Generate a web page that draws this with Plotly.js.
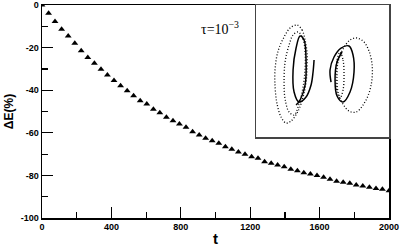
<!DOCTYPE html>
<html>
<head>
<meta charset="utf-8">
<script src="https://cdn.plot.ly/plotly-3.0.1.min.js"></script>
<style>html,body{margin:0;padding:0;background:#fff;}#chart{width:400px;height:249px;}</style>
</head>
<body>
<div id="chart"></div>
<script>
// Main series: energy loss ΔE(%) vs time t
const tValues = [0, 38, 75, 113, 151, 189, 226, 264, 302, 340, 377, 415, 453, 491, 528, 566, 604, 642, 679, 717, 755, 792, 830, 868, 906, 943, 981, 1019, 1057, 1094, 1132, 1170, 1208, 1245, 1283, 1321, 1358, 1396, 1434, 1472, 1509, 1547, 1585, 1623, 1660, 1698, 1736, 1774, 1811, 1849, 1887, 1925, 1962, 2000];
const dEValues = [0, -3.9, -7.8, -11.4, -14.6, -18.0, -21.5, -24.6, -27.4, -30.2, -32.9, -35.5, -37.9, -40.2, -42.6, -44.9, -46.5, -49.0, -50.6, -52.7, -54.3, -55.9, -57.4, -59.5, -61.0, -62.6, -63.7, -64.9, -66.5, -67.7, -69.0, -70.1, -71.2, -72.0, -73.6, -74.3, -75.1, -75.9, -77.1, -77.8, -78.7, -79.3, -80.1, -80.9, -81.8, -82.8, -83.2, -83.7, -84.5, -85.0, -85.6, -86.1, -86.5, -87.2];

const xTickVals = [0, 400, 800, 1200, 1600, 2000];
const xTickText = ["0", "400", "800", "1200", "1600", "2000"];
const yTickVals = [0, -20, -40, -60, -80, -100];
const yTickText = ["0", "-20", "-40", "-60", "-80", "-100"];

// Inset: trajectory sketch (arbitrary inset units)
const leftOuterX = [41, 46, 49, 51, 51, 50, 47, 42, 35, 30, 25, 21, 19, 19, 22, 28, 34, 41];
const leftOuterY = [112, 107, 97, 84, 70, 55, 40, 26, 16, 14, 20, 33, 50, 68, 86, 100, 109, 112];
const leftInnerX = [42, 47, 49, 49, 47, 43, 38, 33, 29, 28, 29, 33, 37, 42];
const leftInnerY = [105, 98, 85, 68, 50, 33, 22, 25, 38, 55, 75, 92, 102, 105];
const leftSolidX = [58, 57, 55, 50, 43, 38, 37, 40, 44, 48, 50, 49, 44, 40];
const leftSolidY = [77, 65, 52, 40, 35, 45, 67, 89, 101, 97, 77, 52, 37, 32];
const rightOuterX = [101, 108, 113, 116, 116, 113, 107, 100, 93, 87, 82, 81, 82, 87, 94, 101];
const rightOuterY = [99, 95, 86, 73, 58, 44, 32, 25, 26, 33, 45, 60, 75, 88, 97, 99];
const rightInnerX = [84, 87, 88, 87, 84, 81, 80, 81, 84];
const rightInnerY = [85, 77, 62, 47, 39, 45, 62, 77, 85];
const rightSolidX = [75, 74, 78, 85, 93, 97, 98, 94, 87, 81, 79, 81, 86];
const rightSolidY = [55, 67, 80, 89, 91, 82, 65, 45, 35, 41, 57, 75, 85];

const dotted = {color: '#000', width: 1.3, dash: '1px,2px', shape: 'spline'};
const solid = {color: '#000', width: 1.5, shape: 'spline'};

const traces = [
  {x: tValues, y: dEValues, type: 'scatter', mode: 'markers',
   marker: {symbol: 'triangle-up', size: 6, color: '#000'}, xaxis: 'x', yaxis: 'y', hoverinfo: 'skip'},
  {x: leftOuterX, y: leftOuterY, mode: 'lines', line: dotted, xaxis: 'x2', yaxis: 'y2'},
  {x: leftInnerX, y: leftInnerY, mode: 'lines', line: dotted, xaxis: 'x2', yaxis: 'y2'},
  {x: leftSolidX, y: leftSolidY, mode: 'lines', line: solid, xaxis: 'x2', yaxis: 'y2'},
  {x: rightOuterX, y: rightOuterY, mode: 'lines', line: dotted, xaxis: 'x2', yaxis: 'y2'},
  {x: rightInnerX, y: rightInnerY, mode: 'lines', line: dotted, xaxis: 'x2', yaxis: 'y2'},
  {x: rightSolidX, y: rightSolidY, mode: 'lines', line: solid, xaxis: 'x2', yaxis: 'y2'}
];

const tickFont = {family: 'Liberation Sans, Arial, sans-serif', size: 9, color: '#000', weight: 'bold'};

const layout = {
  width: 400, height: 249,
  margin: {l: 42, r: 11, t: 5, b: 31},
  paper_bgcolor: '#fff', plot_bgcolor: '#fff',
  showlegend: false,
  xaxis: {
    range: [0, 2000], tickvals: xTickVals, ticktext: xTickText,
    ticks: 'inside', ticklen: 11, tickwidth: 1.2, tickcolor: '#000',
    minor: {dtick: 200, tick0: 0, ticks: 'inside', ticklen: 6, tickwidth: 1.2, tickcolor: '#000', showgrid: false},
    showline: true, linecolor: '#000', linewidth: 1.5, mirror: true,
    showgrid: false, zeroline: false, tickfont: tickFont,
    title: {text: 't', font: {family: 'Liberation Sans, Arial, sans-serif', size: 15, color: '#000', weight: 'bold'}, standoff: 2}
  },
  yaxis: {
    range: [-100, 0], tickvals: yTickVals, ticktext: yTickText,
    ticks: 'inside', ticklen: 11, tickwidth: 1.2, tickcolor: '#000',
    minor: {dtick: 10, tick0: 0, ticks: 'inside', ticklen: 6, tickwidth: 1.2, tickcolor: '#000', showgrid: false},
    showline: true, linecolor: '#000', linewidth: 1.5, mirror: true,
    showgrid: false, zeroline: false, tickfont: tickFont,
    title: {text: 'ΔE(%)', font: {family: 'Liberation Sans, Arial, sans-serif', size: 12, color: '#000', weight: 'bold'}, standoff: 4}
  },
  xaxis2: {
    domain: [0.617, 1], range: [0, 133], anchor: 'y2',
    showline: true, linecolor: '#444', linewidth: 1.5, mirror: true,
    showgrid: false, zeroline: false, showticklabels: false, ticks: ''
  },
  yaxis2: {
    domain: [0.38, 1], range: [0, 132], anchor: 'x2',
    showline: true, linecolor: '#444', linewidth: 1.5, mirror: true,
    showgrid: false, zeroline: false, showticklabels: false, ticks: ''
  },
  annotations: [{
    xref: 'x', yref: 'y', x: 1025, y: -11, xanchor: 'center', yanchor: 'middle',
    text: 'τ=10<sup>−3</sup>', showarrow: false,
    font: {family: 'Liberation Serif, Times New Roman, serif', size: 14, color: '#000'}
  }]
};

Plotly.newPlot('chart', traces, layout, {staticPlot: true, displayModeBar: false});
</script>
</body>
</html>
